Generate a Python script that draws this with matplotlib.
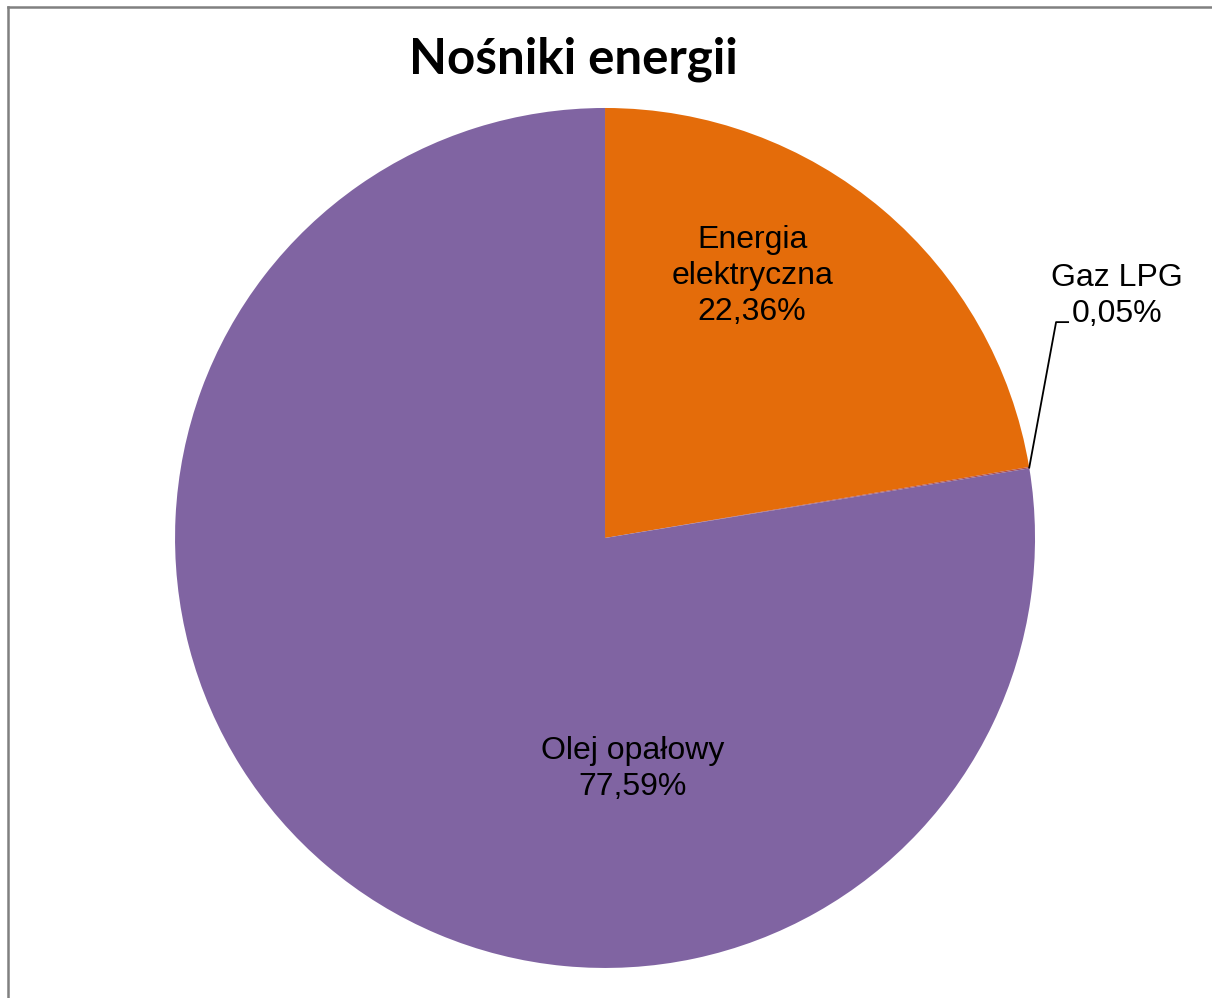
import numpy as np
import matplotlib.pyplot as plt
from matplotlib.lines import Line2D

# dane wykresu
labels = ['Energia\nelektryczna', 'Gaz LPG', 'Olej opałowy']
shares = [22.36, 0.05, 77.59]
colors = ['#E46C0A', '#B0504D', '#8064A2']

plt.rcParams['font.family'] = ['Liberation Sans', 'DejaVu Sans']

fig = plt.figure(figsize=(12.12, 9.98), dpi=100)

# ramka wykresu (szara linia u gory i po lewej)
fig.add_artist(Line2D([0.0066, 0.0066], [0, 0.9925], transform=fig.transFigure,
                      color='#808080', lw=1.8))
fig.add_artist(Line2D([0.0066, 1.0], [0.9925, 0.9925], transform=fig.transFigure,
                      color='#808080', lw=1.8))

fig.text(0.473, 0.941, 'Nośniki energii', ha='center', va='center',
         fontsize=35.5, fontweight='bold', family=['Lato', 'DejaVu Sans'])

ax = fig.add_axes([0.1444, 0.0301, 0.7096, 0.8617])
wedges, _ = ax.pie(shares, colors=colors, startangle=90, counterclock=False,
                   radius=1.0, wedgeprops=dict(linewidth=0))
ax.set_xlim(-1, 1)
ax.set_ylim(-1, 1)
ax.set_aspect('equal')
ax.axis('off')

# etykiety danych
label_pos = [(0.342, 0.609), (1.19, 0.563), (0.065, -0.537)]
for lab, val, (x, y) in zip(labels, shares, label_pos):
    txt = lab + '\n' + f'{val:.2f}'.replace('.', ',') + '%'
    ax.text(x, y, txt, ha='center', va='center', fontsize=23,
            color='black', linespacing=1.27, clip_on=False)

# linia odniesienia dla Gaz LPG
w = wedges[1]
mid = np.deg2rad((w.theta1 + w.theta2) / 2)
px, py = np.cos(mid), np.sin(mid)
ax.plot([px, 1.049, 1.077], [py, 0.502, 0.502], color='black', lw=1.3,
        clip_on=False)

fig.savefig('out.png', dpi=100)
